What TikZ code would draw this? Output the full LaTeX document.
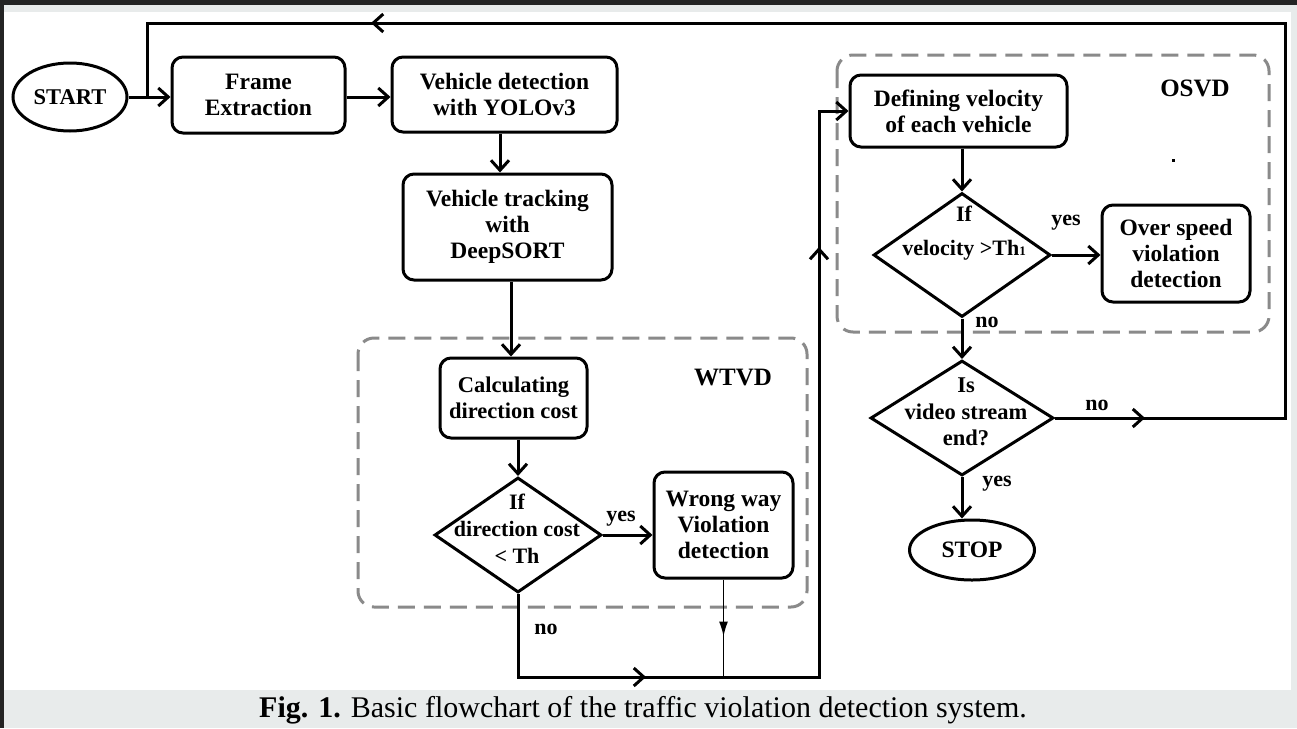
\documentclass[tikz,border=0pt]{standalone}
\usepackage{fontspec}
\setmainfont{Liberation Serif}
\usetikzlibrary{shapes.geometric,arrows.meta,decorations.markings}
\definecolor{dashgray}{HTML}{8A8A8A}
\definecolor{bandgray}{HTML}{E8EBEB}
\definecolor{darkbar}{HTML}{242424}
\begin{document}
\begin{tikzpicture}[x=1pt,y=-1pt,
  line width=3pt, >={Straight Barb[length=10pt,width=18pt]},
  font=\fontsize{23.5}{26}\selectfont\bfseries,
  box/.style={draw, rounded corners=11pt, align=center, inner sep=0pt},
  term/.style={draw, ellipse, inner sep=0pt},
  dec/.style={draw, diamond, inner sep=0pt},
  grp/.style={draw=dashgray, dash pattern=on 17pt off 9pt, rounded corners=16pt},
  lbl/.style={inner sep=0pt, font=\fontsize{22}{26}\selectfont\bfseries},
  dtxt/.style={inner sep=0pt, align=center},
  marr/.style={postaction={decorate,decoration={markings,mark=at position #1 with {\arrow{>}}}}},
  farr/.style={postaction={decorate,decoration={markings,mark=at position #1 with {\arrow{Latex[length=15pt,width=9pt]}}}}},
]
% background and frame strips
\useasboundingbox (0,0) rectangle (1297,728);
\fill[white] (0,0) rectangle (1297,728);
\fill[bandgray] (0,5) rectangle (1297,12);
\fill[bandgray] (1291,12) rectangle (1297,690);
\fill[bandgray] (0,690) rectangle (1297,728);
\fill[darkbar] (0,0) rectangle (1297,5);
\fill[darkbar] (0,0) rectangle (4,728);

% groups
\draw[grp] (358,338) rectangle (807,607);
\draw[grp] (837,55) rectangle (1269,332);
\node[inner sep=0pt, font=\fontsize{25}{28}\selectfont\bfseries] (wtvd) at (733,377) {WTVD};
\node[inner sep=0pt, font=\fontsize{25}{28}\selectfont\bfseries] (osvd) at (1195,88) {OSVD};
\fill (1171.5,158.5) rectangle (1174.5,161.5);

% nodes
\node[term, minimum width=114pt, minimum height=68pt, font=\fontsize{22.5}{26}\selectfont\bfseries] (start) at (70,97) {START};
\node[box, minimum width=173pt, minimum height=76pt] (frame) at (258.5,95) {Frame\\Extraction};
\node[box, minimum width=225pt, minimum height=75pt] (det) at (504.5,94.5) {Vehicle detection\\with YOLOv3};
\node[box, minimum width=209pt, minimum height=106pt] (track) at (507.5,227) {Vehicle tracking\\with\\DeepSORT};
\node[box, minimum width=147pt, minimum height=80pt, font=\fontsize{22.5}{26}\selectfont\bfseries] (calc) at (513.5,398) {Calculating\\direction cost};
\node[dec, minimum width=167pt, minimum height=115pt] (d1) at (518,535) {};
\node[dtxt, font=\fontsize{22}{27}\selectfont\bfseries] (d1t) at (517,529) {If\\direction cost\\< Th};
\node[box, minimum width=139pt, minimum height=106pt] (wrong) at (723.5,525) {Wrong way\\Violation\\detection};

\node[box, minimum width=217pt, minimum height=72pt] (defv) at (958.5,111) {Defining velocity\\of each vehicle};
\node[dec, minimum width=177pt, minimum height=124pt] (d2) at (962,255) {};
\node[dtxt, font=\fontsize{22}{34}\selectfont\bfseries] (d2t) at (964,233) {If\\velocity >Th{\fontsize{13}{13}\selectfont 1}};
\node[box, minimum width=148pt, minimum height=97pt] (over) at (1176,253.5) {Over speed\\violation\\detection};
\node[dec, minimum width=183pt, minimum height=115pt] (d3) at (962,418) {};
\node[dtxt, font=\fontsize{22.5}{26.5}\selectfont\bfseries] (d3t) at (966,412) {Is\\video stream\\end?};
\node[term, minimum width=125pt, minimum height=60pt] (stop) at (972,550) {STOP};

% helper coordinates
\coordinate (cR) at (1285,23);
\coordinate (cL) at (147,23);
\coordinate (jn) at (147,97);
\coordinate (busR) at (819,677);

% connectors
\draw[->] (start.east) -- (start.east -| frame.west);
\draw[->] (frame.east |- start.east) -- (det.west |- start.east);
\draw[->] (det.south -| 500,0) -- (track.north -| 500,0);
\draw[->] (track.south -| 511,0) -- (calc.north -| 511,0);
\draw[->] (calc.south -| d1.north) -- (d1.north);
\draw[->] (d1.east) -- (d1.east -| wrong.west);
\draw[->, marr=211pt, marr=814pt] (d1.south) -- (d1.south |- busR) -- (busR) -- (busR |- defv.west) -- (defv.west);
\draw[line width=1.5pt, farr=57pt] (wrong.south) -- (wrong.south |- busR);
\draw[->] (defv.south -| d2.north) -- (d2.north);
\draw[->] (d2.east) -- (d2.east -| over.west);
\draw[->] (d2.south) -- (d3.north);
\draw[->] (d3.south) -- (d3.south |- stop.north);
\draw[marr=90pt, marr=1539pt] (d3.east) -- (d3.east -| cR) -- (cR) -- (cL) -- (jn);

% connector labels
\node[lbl] (y1) at (621,519) {yes};
\node[lbl] (n1) at (546,629) {no};
\node[lbl] (y2) at (1066,223) {yes};
\node[lbl] (n2) at (987,322) {no};
\node[lbl] (n3) at (1097,405) {no};
\node[lbl] (y3) at (997,484) {yes};

% caption
\node[inner sep=0pt, font=\fontsize{30}{33}\selectfont] (cap) at (643,710) {\textbf{Fig. 1.} Basic flowchart of the traffic violation detection system.};
\end{tikzpicture}
\end{document}
